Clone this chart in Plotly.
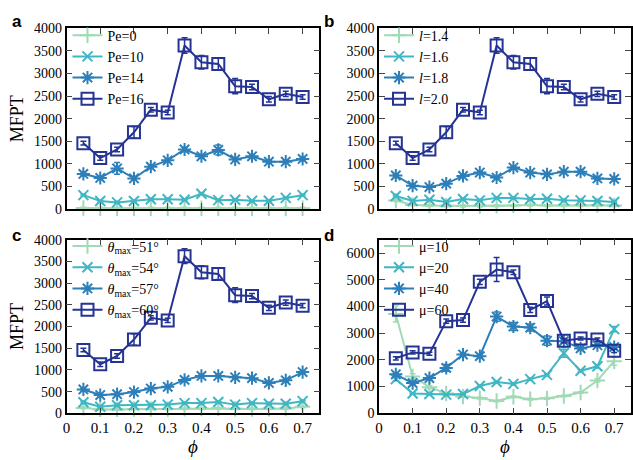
import plotly.graph_objects as go

phi = [0.05, 0.10, 0.15, 0.20, 0.25, 0.30, 0.35, 0.40, 0.45, 0.50, 0.55, 0.60, 0.65, 0.70]

# shared reference case (Pe=16, l=2.0, theta_max=60, mu=40)
base = [1460, 1130, 1320, 1700, 2200, 2140, 3620, 3250, 3210, 2720, 2700, 2430, 2550, 2480]
base_err = [40, 50, 50, 130, 50, 50, 170, 150, 130, 170, 60, 60, 60, 50]

# panel a
pe0 = [25, 20, 20, 20, 20, 20, 20, 20, 20, 20, 20, 20, 20, 20]
pe10 = [310, 180, 150, 180, 220, 220, 210, 340, 200, 210, 185, 185, 250, 310]
pe14 = [780, 690, 900, 680, 940, 1080, 1320, 1170, 1310, 1100, 1170, 1050, 1050, 1110]
pe14_err = [40, 30, 130, 40, 40, 40, 50, 40, 110, 40, 40, 30, 30, 40]

# panel b
l14 = [190, 95, 80, 75, 70, 70, 75, 80, 90, 80, 80, 80, 90, 80]
l16 = [290, 180, 210, 160, 225, 195, 250, 250, 225, 230, 195, 195, 180, 160]
l18 = [745, 520, 490, 565, 735, 810, 700, 920, 810, 770, 830, 830, 680, 670]

# panel c
th51 = [125, 90, 90, 100, 100, 100, 105, 110, 115, 105, 100, 105, 110, 150]
th54 = [255, 150, 185, 185, 185, 200, 235, 235, 260, 200, 235, 220, 220, 280]
th57 = [550, 420, 440, 490, 570, 610, 770, 860, 860, 830, 810, 700, 760, 950]

# panel d
mu10 = [3720, 1380, 980, 740, 630, 570, 460, 620, 530, 560, 650, 780, 1230, 1950]
mu10_err = [300, 100, 50, 40, 30, 30, 30, 30, 30, 30, 30, 30, 60, 150]
mu20 = [1280, 740, 720, 700, 720, 1020, 1170, 1100, 1280, 1440, 2250, 1590, 1760, 3150]
mu20_err = [60, 30, 30, 30, 30, 40, 40, 40, 40, 40, 150, 40, 60, 100]
mu60 = [2060, 2280, 2230, 3450, 3490, 4920, 5380, 5280, 3870, 4200, 2720, 2800, 2760, 2340]
mu60_err = [60, 60, 60, 80, 80, 100, 450, 80, 100, 150, 80, 60, 60, 60]
small_err = [20] * 14

xticks = [0, 0.1, 0.2, 0.3, 0.4, 0.5, 0.6, 0.7]

colors = ["#a1dab4", "#41b6c4", "#2c7fb8", "#253494"]
symbols = ["cross-thin", "x-thin", "asterisk-open", "square-open"]
sizes = [11, 10, 11, 12]

SERIF = "Liberation Serif, Times New Roman, serif"

panels = [
    ("", "legend", [
        ("Pe=0", pe0, small_err), ("Pe=10", pe10, small_err),
        ("Pe=14", pe14, pe14_err), ("Pe=16", base, base_err)]),
    ("2", "legend2", [
        ("<i>l</i>=1.4", l14, small_err), ("<i>l</i>=1.6", l16, small_err),
        ("<i>l</i>=1.8", l18, small_err), ("<i>l</i>=2.0", base, base_err)]),
    ("3", "legend3", [
        ("<i>θ</i><sub>max</sub>=51°", th51, small_err), ("<i>θ</i><sub>max</sub>=54°", th54, small_err),
        ("<i>θ</i><sub>max</sub>=57°", th57, small_err), ("<i>θ</i><sub>max</sub>=60°", base, base_err)]),
    ("4", "legend4", [
        ("μ=10", mu10, mu10_err), ("μ=20", mu20, mu20_err),
        ("μ=40", base, base_err), ("μ=60", mu60, mu60_err)]),
]

fig = go.Figure()
for ax, leg, series in panels:
    for i, (name, vals, err) in enumerate(series):
        fig.add_trace(go.Scatter(
            x=phi, y=vals, name=name, mode="lines+markers",
            xaxis="x" + ax, yaxis="y" + ax, legend=leg,
            line=dict(color=colors[i], width=2),
            marker=dict(symbol=symbols[i], size=sizes[i], color=colors[i],
                        line=dict(color=colors[i], width=2)),
            error_y=dict(type="data", array=err, visible=True, color=colors[i],
                         thickness=1.5, width=3),
            cliponaxis=False,
        ))

W, H = 633, 460
def px(a, b, total):
    return [a / total, b / total]

xdom_left = px(63, 318, W)
xdom_right = px(378, 632, W)
ydom_top = [1 - 209 / H, 1 - 22 / H]
ydom_bot = [1 - 420 / H, 1 - 240.5 / H]

def xaxis(dom, anchor, labels):
    return dict(domain=dom, anchor=anchor, range=[0, 0.75], tickvals=xticks,
                showticklabels=labels, ticks="inside", ticklen=6, tickwidth=1.3,
                showline=True, linecolor="black", linewidth=1.5, mirror="ticks",
                showgrid=False, zeroline=False,
                tickfont=dict(family=SERIF, size=15, color="black"))

def yaxis(dom, anchor, rng, dtick, title=None):
    d = dict(domain=dom, anchor=anchor, range=rng, dtick=dtick, tick0=0,
             ticks="inside", ticklen=6, tickwidth=1.3,
             showline=True, linecolor="black", linewidth=1.5, mirror="ticks",
             showgrid=False, zeroline=False,
             tickfont=dict(family=SERIF, size=14, color="black"))
    if title:
        d["title"] = dict(text=title, font=dict(family=SERIF, size=18, color="black"), standoff=6)
    return d

phi_title = dict(text="<i>ϕ</i>", font=dict(family=SERIF, size=19, color="black"), standoff=0)

xa3 = xaxis(xdom_left, "y3", True); xa3["title"] = phi_title
xa4 = xaxis(xdom_right, "y4", True); xa4["title"] = phi_title

def legend(x, y):
    return dict(x=x, y=y, xanchor="left", yanchor="top", bgcolor="rgba(0,0,0,0)",
                font=dict(family=SERIF, size=14, color="black"),
                itemwidth=30, tracegroupgap=0, traceorder="normal")

fig.update_layout(
    width=W, height=H, margin=dict(l=0, r=0, t=0, b=0),
    paper_bgcolor="white", plot_bgcolor="white", showlegend=True,
    xaxis=xaxis(xdom_left, "y", False),
    yaxis=yaxis(ydom_top, "x", [0, 4000], 500, "MFPT"),
    xaxis2=xaxis(xdom_right, "y2", False),
    yaxis2=yaxis(ydom_top, "x2", [0, 4000], 500),
    xaxis3=xa3,
    yaxis3=yaxis(ydom_bot, "x3", [0, 4000], 500, "MFPT"),
    xaxis4=xa4,
    yaxis4=yaxis(ydom_bot, "x4", [0, 6500], 1000),
    legend=legend(64 / W, 1 - 13 / H),
    legend2=legend(378 / W, 1 - 13 / H),
    legend3=legend(64 / W, 1 - 231 / H),
    legend4=legend(378 / W, 1 - 231 / H),
)

for letter, x, y in [("a", 6, 3), ("b", 321, 3), ("c", 6, 224), ("d", 321, 224)]:
    fig.add_annotation(text="<b>%s</b>" % letter, x=x / W, y=1 - y / H, xref="paper", yref="paper",
                       xanchor="left", yanchor="top", showarrow=False,
                       font=dict(family="Liberation Sans", size=17, color="black"))

fig.write_html("out.html", config={"displayModeBar": False},
               post_script="document.body.style.margin='0';document.body.style.overflow='hidden';")
